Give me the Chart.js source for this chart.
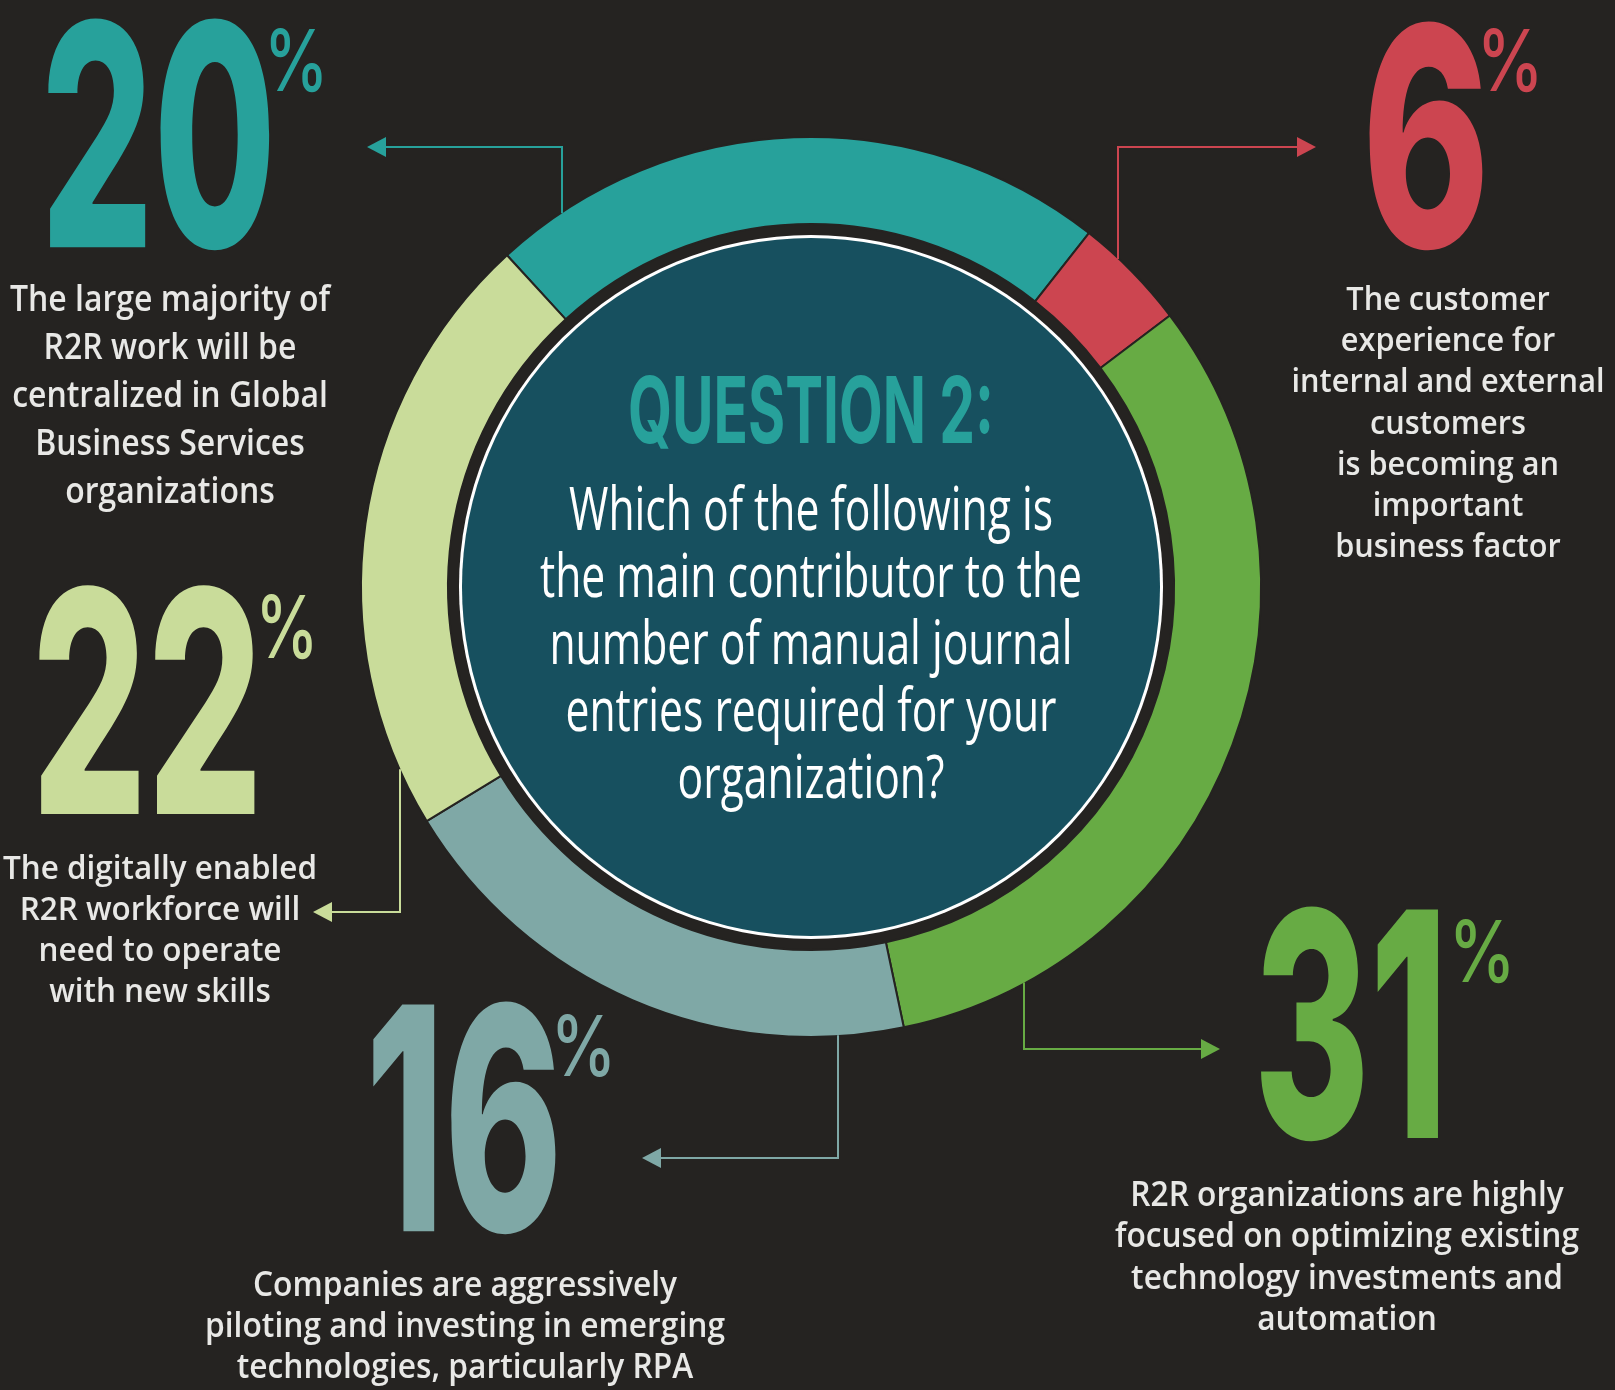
<!DOCTYPE html>
<html>
<head>
<meta charset="utf-8">
<script src="https://cdn.jsdelivr.net/npm/chart.js@4.4.1/dist/chart.umd.min.js"></script>
<style>
html, body { margin: 0; padding: 0; background: #252321; }
#wrap { position: relative; width: 1615px; height: 1390px; overflow: hidden; }
canvas { display: block; }
</style>
</head>
<body>
<div id="wrap"><canvas id="c" width="1615" height="1390"></canvas></div>
<script>
// ---------- DATA ----------
const categories = [
  'Centralized in Global Business Services',
  'Customer experience',
  'Optimizing existing technology investments',
  'Emerging technologies / RPA',
  'Digitally enabled workforce'
];
// share of the ring occupied by each segment, as read from the arcs
const arcShares = [22.4, 4.1, 32.0, 19.6, 21.9];
// the printed percentages
const percentLabels = ['20', '6', '31', '16', '22'];
const questionTitle = 'QUESTION 2:';
const questionLines = [
  'Which of the following is',
  'the main contributor to the',
  'number of manual journal',
  'entries required for your',
  'organization?'
];
const descriptions = [
  ['The large majority of', 'R2R work will be', 'centralized in Global', 'Business Services', 'organizations'],
  ['The customer', 'experience for', 'internal and external', 'customers', 'is becoming an', 'important', 'business factor'],
  ['R2R organizations are highly', 'focused on optimizing existing', 'technology investments and', 'automation'],
  ['Companies are aggressively', 'piloting and investing in emerging', 'technologies, particularly RPA'],
  ['The digitally enabled', 'R2R workforce will', 'need to operate', 'with new skills']
];

// ---------- STYLE ----------
const BG = '#252321';
const segmentColors = ['#27a19b', '#cc4550', '#67ab44', '#7fa8a6', '#c9dc9a'];
const CENTER_FILL = '#17505f';
const DESC_COLOR = '#e8e8e6';

// layout per segment (index matches data)
const bigBoxes = [
  { l: 46,   r: 270,  t: 21,  b: 252 },
  { l: 1368, r: 1483, t: 24,  b: 252 },
  { l: 1259, r: 1439, t: 909, b: 1143 },
  { l: 371,  r: 556,  t: 1004, b: 1236 },
  { l: 37,   r: 255,  t: 586, b: 814 }
];
const pctBoxes = [
  { l: 270,  r: 322,  t: 29,  b: 93 },
  { l: 1483, r: 1537, t: 29,  b: 93 },
  { l: 1455, r: 1509, t: 920, b: 984 },
  { l: 557,  r: 610,  t: 1015, b: 1078 },
  { l: 262,  r: 312,  t: 595, b: 660 }
];
const descLayout = [
  { cx: 170,  base: 311,  gap: 48,   capH: 26, ref: 0, refW: 320 },
  { cx: 1448, base: 310,  gap: 41.2, capH: 24, ref: 2, refW: 313 },
  { cx: 1347, base: 1206, gap: 41.3, capH: 25, ref: 1, refW: 464 },
  { cx: 465,  base: 1296, gap: 41,   capH: 25, ref: 1, refW: 520 },
  { cx: 160,  base: 879,  gap: 41,   capH: 24, ref: 0, refW: 314 }
];
// connectors: x where it leaves the ring, y of the elbow, x of arrow tip
const connectors = [
  { x: 562,  y: 147,  tip: 367 },
  { x: 1118, y: 147,  tip: 1316 },
  { x: 1024, y: 1049, tip: 1220 },
  { x: 838,  y: 1158, tip: 642 },
  { x: 400,  y: 912,  tip: 313 }
];

const BIG_FONT = 'Inter, Roboto, "Open Sans", sans-serif';
const TEXT_FONT = '"Open Sans", "Noto Sans", sans-serif';

function drawInBox(ctx, text, weight, family, box, color) {
  const test = 200;
  ctx.font = `${weight} ${test}px ${family}`;
  let m = ctx.measureText(text);
  const inkH = m.actualBoundingBoxAscent + m.actualBoundingBoxDescent;
  const size = test * (box.b - box.t) / inkH;
  ctx.font = `${weight} ${size}px ${family}`;
  m = ctx.measureText(text);
  const inkW = m.actualBoundingBoxLeft + m.actualBoundingBoxRight;
  const sx = (box.r - box.l) / inkW;
  const x = box.l + sx * m.actualBoundingBoxLeft;
  const y = box.b - m.actualBoundingBoxDescent;
  ctx.save();
  ctx.fillStyle = color;
  ctx.textAlign = 'left';
  ctx.textBaseline = 'alphabetic';
  ctx.translate(x, y);
  ctx.scale(sx, 1);
  ctx.fillText(text, 0, 0);
  ctx.restore();
}

function drawBlock(ctx, lines, lay, weight, family, color) {
  const test = 100;
  ctx.font = `${weight} ${test}px ${family}`;
  const capAsc = ctx.measureText('H').actualBoundingBoxAscent;
  const size = test * lay.capH / capAsc;
  ctx.font = `${weight} ${size}px ${family}`;
  const sx = lay.refW / ctx.measureText(lines[lay.ref]).width;
  ctx.fillStyle = color;
  ctx.textAlign = 'center';
  ctx.textBaseline = 'alphabetic';
  lines.forEach((ln, i) => {
    ctx.save();
    ctx.translate(lay.cx, lay.base + i * lay.gap);
    ctx.scale(sx, 1);
    ctx.fillText(ln, 0, 0);
    ctx.restore();
  });
}

const overlay = {
  id: 'overlay',
  afterDatasetsDraw(chart) {
    const ctx = chart.ctx;
    const arc = chart.getDatasetMeta(0).data[0];
    const cx = arc.x, cy = arc.y, R = arc.outerRadius, r = arc.innerRadius;
    // inner disc with white rim
    ctx.save();
    ctx.beginPath(); ctx.arc(cx, cy, r - 11, 0, Math.PI * 2); ctx.fillStyle = '#ffffff'; ctx.fill();
    ctx.beginPath(); ctx.arc(cx, cy, r - 14, 0, Math.PI * 2); ctx.fillStyle = CENTER_FILL; ctx.fill();
    ctx.restore();

    // connectors
    connectors.forEach((c, i) => {
      const dx = c.x - cx;
      const dy = Math.sqrt(Math.max(R * R - dx * dx, 0));
      const y0 = c.y < cy ? cy - dy + 1 : cy + dy - 1;
      const dir = c.tip < c.x ? -1 : 1;
      const L = 19, H = 10;
      ctx.save();
      ctx.strokeStyle = segmentColors[i];
      ctx.fillStyle = segmentColors[i];
      ctx.lineWidth = 2;
      ctx.beginPath();
      ctx.moveTo(c.x, y0);
      ctx.lineTo(c.x, c.y);
      ctx.lineTo(c.tip - dir * L, c.y);
      ctx.stroke();
      ctx.beginPath();
      ctx.moveTo(c.tip, c.y);
      ctx.lineTo(c.tip - dir * L, c.y - H);
      ctx.lineTo(c.tip - dir * L, c.y + H);
      ctx.closePath();
      ctx.fill();
      ctx.restore();
    });

    // big numbers and percent signs
    percentLabels.forEach((p, i) => {
      drawInBox(ctx, p, 800, BIG_FONT, bigBoxes[i], segmentColors[i]);
      drawInBox(ctx, '%', 500, BIG_FONT, pctBoxes[i], segmentColors[i]);
    });

    // descriptions
    descriptions.forEach((lines, i) => drawBlock(ctx, lines, descLayout[i], 600, TEXT_FONT, DESC_COLOR));

    // center question
    drawBlock(ctx, [questionTitle], { cx: 811, base: 443, gap: 0, capH: 67, ref: 0, refW: 366 }, 700, BIG_FONT, segmentColors[0]);
    drawBlock(ctx, questionLines, { cx: 811, base: 530, gap: 67, capH: 44, ref: 0, refW: 484 }, 400, TEXT_FONT, '#ffffff');
  }
};

new Chart(document.getElementById('c'), {
  type: 'doughnut',
  data: {
    labels: categories,
    datasets: [{
      data: arcShares,
      backgroundColor: segmentColors,
      borderColor: BG,
      borderWidth: 2,
      hoverOffset: 0
    }]
  },
  options: {
    responsive: false,
    animation: false,
    rotation: -42.5,
    radius: 450,
    cutout: '80.67%',
    layout: { padding: { left: 7, right: 0, top: 0, bottom: 216 } },
    plugins: { legend: { display: false }, tooltip: { enabled: false } },
    events: []
  },
  plugins: [overlay]
});
</script>
</body>
</html>
